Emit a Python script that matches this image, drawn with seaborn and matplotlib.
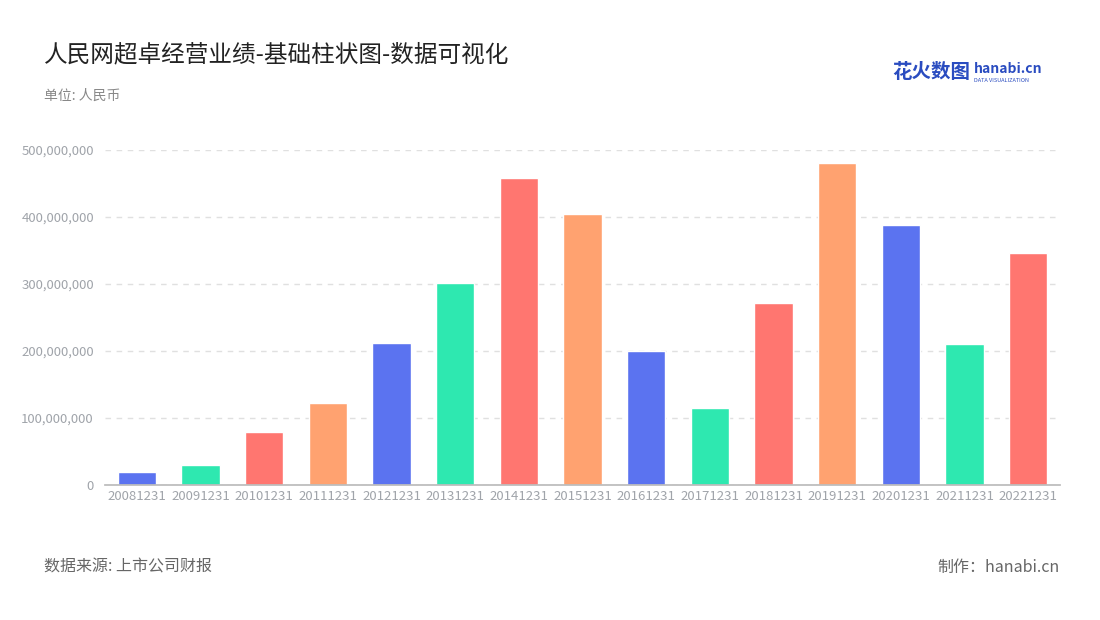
import matplotlib
matplotlib.use("Agg")
import matplotlib.pyplot as plt
import seaborn as sns
import pandas as pd
from matplotlib.ticker import FuncFormatter

years = ["20081231","20091231","20101231","20111231","20121231","20131231","20141231","20151231",
         "20161231","20171231","20181231","20191231","20201231","20211231","20221231"]
values = [20e6, 30e6, 79e6, 122e6, 212e6, 301e6, 458e6, 404e6, 200e6, 115e6, 272e6, 480e6, 388e6, 210e6, 346e6]
palette_cycle = ["#5B73F0", "#2EE8B0", "#FF7670", "#FFA270"]

sns.set_theme(style="white")
plt.rcParams['font.family'] = ['Noto Sans CJK SC', 'DejaVu Sans']

fig = plt.figure(figsize=(11, 6.2), dpi=100)
ax = fig.add_axes([105/1100, 1-485/620, 955/1100, 335/620])
df = pd.DataFrame({"year": years, "value": values})
colors = [palette_cycle[i % 4] for i in range(len(years))]
sns.barplot(data=df, x="year", y="value", hue="year", palette=colors, legend=False, ax=ax, width=0.6, saturation=1)
ax.set_ylim(0, 500e6)
ax.set_yticks([0, 100e6, 200e6, 300e6, 400e6, 500e6])
ax.yaxis.set_major_formatter(FuncFormatter(lambda v, p: f"{int(v):,}"))
ax.set_xlabel(""); ax.set_ylabel("")
ax.tick_params(axis='both', labelsize=9.5, colors="#A0A4AA", length=0)
ax.tick_params(axis='y', pad=8)
ax.grid(axis='y', linestyle=(0, (4, 4)), color="#E0E0E0", linewidth=1)
ax.set_axisbelow(True)
for s in ["top", "right", "left"]:
    ax.spines[s].set_visible(False)
ax.spines["bottom"].set_color("#BBBBBB")

fig.text(44/1100, 1-55/620, "人民网超卓经营业绩-基础柱状图-数据可视化", fontsize=17, color="#222222", va="center")
fig.text(44/1100, 1-96/620, "单位: 人民币", fontsize=10, color="#888888", va="center")
fig.text(44/1100, 1-567/620, "数据来源: 上市公司财报", fontsize=11.5, color="#666666", va="center")
fig.text(1060/1100, 1-567/620, "制作：hanabi.cn", fontsize=11.5, color="#666666", va="center", ha="right")
fig.text(892/1100, 1-72/620, "花火数图", fontsize=14, color="#2A4CC0", fontweight="bold", va="center")
fig.text(974/1100, 1-69/620, "hanabi.cn", fontsize=10, color="#2A4CC0", fontweight="bold", va="center")
fig.text(974/1100, 1-80/620, "DATA VISUALIZATION", fontsize=4, color="#2A4CC0", va="center")
fig.savefig("out.png", dpi=100, facecolor="white")
